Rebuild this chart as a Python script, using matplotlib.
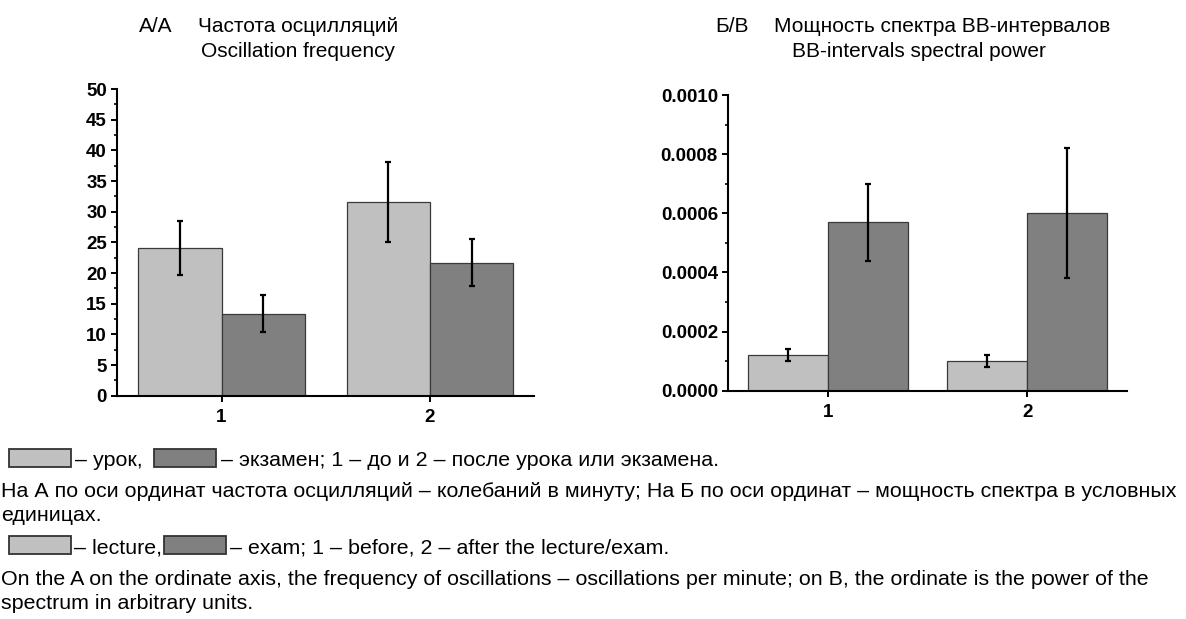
import matplotlib.pyplot as plt
import numpy as np
from matplotlib.patches import Rectangle
from matplotlib.ticker import MultipleLocator, FormatStrFormatter

plt.rcParams['font.family'] = ['Liberation Sans', 'DejaVu Sans']

groups = [1, 2]
# A: oscillation frequency
freq_lesson = [24.1, 31.6]
freq_lesson_err = [4.4, 6.5]
freq_exam = [13.4, 21.7]
freq_exam_err = [3.0, 3.8]
# B: spectral power
power_lesson = [0.00012, 0.00010]
power_lesson_err = [0.00002, 0.00002]
power_exam = [0.00057, 0.00060]
power_exam_err = [0.00013, 0.00022]

light, dark, edge = '#c0c0c0', '#808080', '#3a3a3a'
W, H = 1186, 619

fig = plt.figure(figsize=(W / 100, H / 100), dpi=100)


def panel(rect, vals1, err1, vals2, err2, ymax, major, minor, fmt):
    ax = fig.add_axes(rect)
    x = np.array(groups)
    ekw = dict(elinewidth=1.6, capsize=2.5, capthick=1.6, ecolor='black')
    ax.bar(x - 0.2, vals1, 0.4, yerr=err1, color=light, edgecolor=edge, lw=0.9, error_kw=ekw)
    ax.bar(x + 0.2, vals2, 0.4, yerr=err2, color=dark, edgecolor=edge, lw=0.9, error_kw=ekw)
    ax.set_xlim(0.5, 2.5)
    ax.set_ylim(0, ymax)
    ax.set_xticks(groups)
    ax.yaxis.set_major_locator(MultipleLocator(major))
    ax.yaxis.set_minor_locator(MultipleLocator(minor))
    ax.yaxis.set_major_formatter(FormatStrFormatter(fmt))
    for s in ['top', 'right']:
        ax.spines[s].set_visible(False)
    for s in ['left', 'bottom']:
        ax.spines[s].set_linewidth(1.5)
    ax.tick_params(axis='both', which='major', length=4.5, width=1.4, labelsize=13.5, pad=3)
    ax.tick_params(axis='x', pad=5)
    ax.tick_params(axis='y', which='minor', length=2.5, width=1.2)
    for lab in ax.get_xticklabels() + ax.get_yticklabels():
        lab.set_fontweight('bold')
    return ax


panel([117.3 / W, 1 - 395.7 / H, 417 / W, 306.7 / H],
      freq_lesson, freq_lesson_err, freq_exam, freq_exam_err, 50, 5, 2.5, '%d')
panel([728.3 / W, 1 - 390.7 / H, 398.4 / W, 295.7 / H],
      power_lesson, power_lesson_err, power_exam, power_exam_err, 0.001, 0.0002, 0.0001, '%.4f')


def ftext(px, py, s, size=15.4, **kw):
    fig.text(px / W, 1 - py / H, s, fontsize=size, va='baseline', ha='left', **kw)


# titles
ftext(139, 32, 'А/А', 15)
ftext(198, 32, 'Частота осцилляций', 15)
ftext(201, 57, 'Oscillation frequency', 15)
ftext(715, 32, 'Б/В', 15)
ftext(774, 32, 'Мощность спектра ВВ-интервалов', 15)
ftext(792, 57, 'BB-intervals spectral power', 15)


def box(px, py, color):
    fig.patches.append(Rectangle((px / W, 1 - (py + 18) / H), 62 / W, 18 / H,
                                 transform=fig.transFigure, facecolor=color,
                                 edgecolor='#333333', lw=1.3))


# caption
box(9, 449, light)
box(154, 449, dark)
ftext(75, 466, '– урок,')
ftext(221, 466, '– экзамен; 1 – до и 2 – после урока или экзамена.')
ftext(1, 497, 'На А по оси ординат частота осцилляций – колебаний в минуту; На Б по оси ординат – мощность спектра в условных')
ftext(1, 521, 'единицах.')
box(9, 536, light)
box(164, 536, dark)
ftext(74, 553, '– lecture,')
ftext(230, 553, '– exam; 1 – before, 2 – after the lecture/exam.')
ftext(1, 585, 'On the A on the ordinate axis, the frequency of oscillations – oscillations per minute; on B, the ordinate is the power of the')
ftext(1, 609, 'spectrum in arbitrary units.')

fig.savefig('out.png', dpi=100)
